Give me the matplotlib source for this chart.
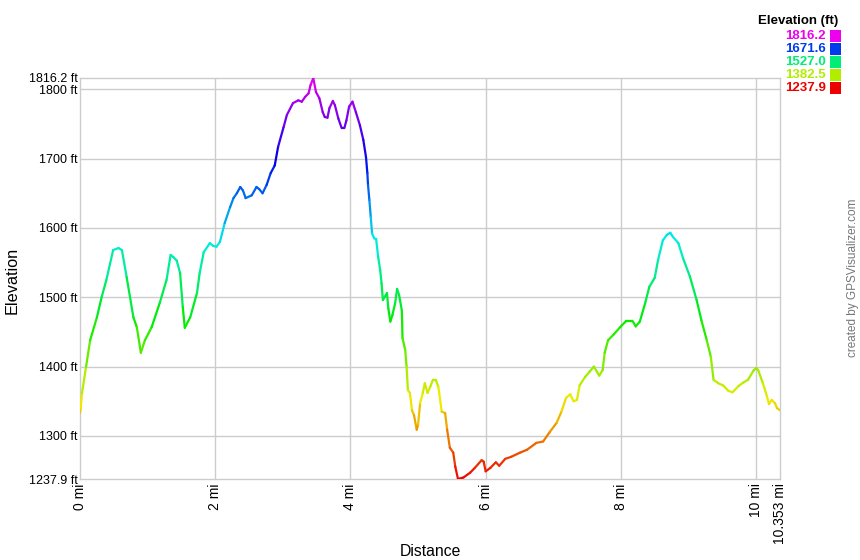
import numpy as np
import matplotlib
matplotlib.use("Agg")
import matplotlib.pyplot as plt
from matplotlib.collections import LineCollection
from matplotlib.colors import hsv_to_rgb
from matplotlib.patches import Rectangle

# profile (miles, feet)
dist_mi = [0.00, 0.01, 0.03, 0.09, 0.15, 0.25, 0.32, 0.39, 0.49, 0.57, 0.62, 0.69, 0.79, 0.84, 0.90,
           0.96, 1.06, 1.18, 1.28, 1.34, 1.38, 1.43, 1.48, 1.52, 1.55, 1.63, 1.73, 1.77, 1.83, 1.92,
           1.97, 2.02, 2.07, 2.14, 2.22, 2.27, 2.32, 2.37, 2.41, 2.45, 2.54, 2.61, 2.65, 2.70, 2.76,
           2.82, 2.88, 2.93, 3.01, 3.06, 3.15, 3.23, 3.28, 3.33, 3.38, 3.41, 3.45, 3.49, 3.54, 3.59,
           3.62, 3.66, 3.69, 3.74, 3.77, 3.82, 3.87, 3.91, 3.94, 3.98, 4.03, 4.08, 4.14, 4.19, 4.23,
           4.25, 4.26, 4.28, 4.30, 4.32, 4.35, 4.38, 4.41, 4.44, 4.46, 4.48, 4.51, 4.54, 4.56, 4.59,
           4.62, 4.66, 4.69, 4.72, 4.76, 4.77, 4.81, 4.83, 4.85, 4.88, 4.91, 4.94, 4.98, 5.00, 5.03,
           5.07, 5.10, 5.14, 5.18, 5.22, 5.26, 5.30, 5.35, 5.40, 5.43, 5.47, 5.52, 5.55, 5.59, 5.67,
           5.77, 5.84, 5.94, 5.97, 6.00, 6.07, 6.15, 6.20, 6.29, 6.38, 6.51, 6.61, 6.75, 6.85, 6.95,
           7.05, 7.12, 7.19, 7.25, 7.30, 7.35, 7.39, 7.47, 7.54, 7.60, 7.68, 7.73, 7.76, 7.81, 7.89,
           7.99, 8.08, 8.17, 8.22, 8.28, 8.36, 8.42, 8.50, 8.55, 8.62, 8.68, 8.73, 8.77, 8.85, 8.92,
           9.02, 9.12, 9.19, 9.27, 9.33, 9.37, 9.44, 9.51, 9.59, 9.65, 9.74, 9.81, 9.88, 9.96, 10.00,
           10.03, 10.10, 10.16, 10.19, 10.23, 10.28, 10.31, 10.353]
elev_ft = [1333, 1340, 1362, 1400, 1438, 1471, 1500, 1525, 1568, 1571, 1568, 1529, 1471, 1457, 1420,
           1438, 1457, 1492, 1525, 1561, 1558, 1553, 1535, 1486, 1456, 1471, 1506, 1535, 1565, 1578,
           1574, 1573, 1580, 1607, 1630, 1643, 1650, 1659, 1654, 1643, 1647, 1659, 1656, 1650, 1662,
           1679, 1690, 1717, 1745, 1763, 1780, 1784, 1782, 1789, 1794, 1806, 1816, 1796, 1787, 1767,
           1760, 1759, 1773, 1783, 1777, 1758, 1744, 1744, 1755, 1775, 1782, 1767, 1748, 1727, 1702,
           1679, 1662, 1640, 1616, 1592, 1585, 1584, 1558, 1539, 1520, 1496, 1501, 1506, 1484, 1465,
           1474, 1491, 1512, 1503, 1481, 1441, 1424, 1400, 1366, 1362, 1337, 1330, 1309, 1316, 1347,
           1362, 1376, 1362, 1371, 1381, 1381, 1371, 1335, 1333, 1309, 1283, 1276, 1256, 1238, 1240,
           1247, 1254, 1265, 1263, 1249, 1254, 1262, 1257, 1267, 1270, 1276, 1280, 1290, 1292, 1306,
           1319, 1335, 1355, 1360, 1350, 1352, 1373, 1385, 1393, 1400, 1387, 1395, 1420, 1438, 1446,
           1457, 1466, 1466, 1458, 1465, 1492, 1515, 1528, 1554, 1582, 1590, 1593, 1587, 1578, 1556,
           1530, 1496, 1467, 1438, 1414, 1381, 1376, 1373, 1365, 1363, 1372, 1377, 1381, 1394, 1398,
           1395, 1376, 1357, 1346, 1352, 1347, 1340, 1337]

elev_min = 1237.9
elev_max = 1816.2
total_mi = 10.353
yticks = [1300, 1400, 1500, 1600, 1700, 1800]
xticks = [0, 2, 4, 6, 8, 10]
legend_vals = [1816.2, 1671.6, 1527.0, 1382.5, 1237.9]

W, H = 860, 560


def elev_color(e):
    # red -> yellow -> green -> blue -> magenta along the elevation range
    h = (e - elev_min) / (elev_max - elev_min) * 300.0 / 360.0
    h = min(max(h, 0), 300.0 / 360.0)
    return hsv_to_rgb([h, 1.0, 0.93])


plt.rcParams['font.family'] = ['Liberation Sans', 'DejaVu Sans']

fig = plt.figure(figsize=(W / 100, H / 100), dpi=100)
ax = fig.add_axes([80 / W, 81 / H, 700 / W, 401 / H])

x = np.array(dist_mi)
y = np.array(elev_ft)
pts = np.column_stack([x, y]).reshape(-1, 1, 2)
segs = np.concatenate([pts[:-1], pts[1:]], axis=1)
cols = [elev_color((y[i] + y[i + 1]) / 2) for i in range(len(y) - 1)]
lc = LineCollection(segs, colors=cols, linewidths=1.6, capstyle='round', joinstyle='round', zorder=3)
ax.add_collection(lc)

ax.set_xlim(0, total_mi)
ax.set_ylim(elev_min, elev_max)

ax.set_yticks(yticks + [elev_min, elev_max])
ax.set_yticklabels([f"{v} ft" for v in yticks] + [f"{elev_min} ft", f"{elev_max} ft"], fontsize=9)
ax.set_xticks(xticks + [total_mi])
ax.set_xticklabels([f"{v} mi" for v in xticks] + [f"{total_mi} mi"], fontsize=10, rotation=90)
ax.tick_params(axis='both', length=0, colors='#000000')
ax.tick_params(axis='y', pad=1.5)
ax.tick_params(axis='x', pad=3)

for v in yticks:
    ax.axhline(v, color='#cccccc', lw=1, zorder=1)
for v in xticks[1:]:
    ax.axvline(v, color='#cccccc', lw=1, zorder=1)
for s in ax.spines.values():
    s.set_color('#cccccc')
    s.set_linewidth(1)

fig.text(12 / W, 1 - 280 / H, "Elevation", rotation=90, ha='center', va='center', fontsize=11.7)
fig.text(430 / W, 1 - 551 / H, "Distance", ha='center', va='center', fontsize=11.3)
fig.text(853 / W, 1 - 278 / H, "created by GPSVisualizer.com", rotation=90, ha='center', va='center',
         fontsize=8.5, color='#777777')

# elevation legend, top right
fig.text(838 / W, 1 - 21 / H, "Elevation (ft)", ha='right', va='center', fontsize=9.5, fontweight='bold')
for i, v in enumerate(legend_vals):
    yc = 36 + 13 * i
    c = elev_color(v)
    fig.text(826 / W, 1 - yc / H, f"{v:.1f}", ha='right', va='center', fontsize=9.5,
             fontweight='bold', color=c)
    fig.patches.append(Rectangle((830 / W, 1 - (yc + 5.5) / H), 11 / W, 11 / H,
                                 transform=fig.transFigure, facecolor=c, edgecolor='none'))

fig.savefig("out.png", dpi=100)
